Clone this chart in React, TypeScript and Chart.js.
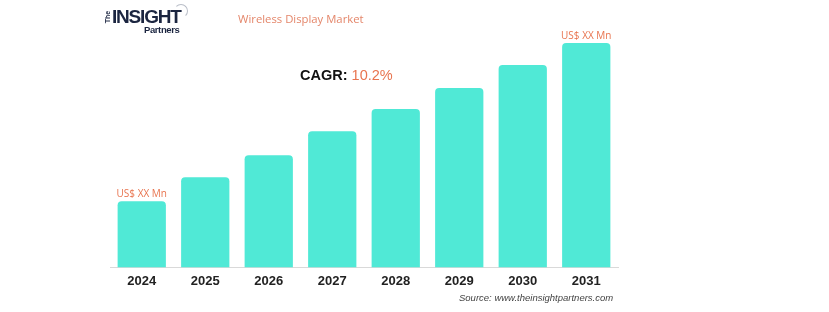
import React, { useEffect, useRef } from "react";
import { Chart, registerables } from "chart.js";

Chart.register(...registerables);

// Market size by year (relative units)
const years = ["2024", "2025", "2026", "2027", "2028", "2029", "2030", "2031"];
const marketSize = [66, 90, 112, 136, 158, 179, 202, 224];
const valueLabels = ["US$ XX Mn", "", "", "", "", "", "", "US$ XX Mn"];

const BAR_COLOR = "#50E9D6";
const ACCENT = "#E8744F";

const barLabelPlugin = {
  id: "barLabels",
  afterDatasetsDraw(chart: any) {
    const ctx = chart.ctx;
    const meta = chart.getDatasetMeta(0);
    ctx.save();
    ctx.fillStyle = ACCENT;
    ctx.font = "10px 'Open Sans', sans-serif";
    ctx.textAlign = "center";
    ctx.textBaseline = "bottom";
    meta.data.forEach((bar: any, i: number) => {
      const text = valueLabels[i];
      if (text) ctx.fillText(text, bar.x, bar.y - 2);
    });
    ctx.restore();
  },
};

export default function App() {
  const canvasRef = useRef<HTMLCanvasElement | null>(null);

  useEffect(() => {
    if (!canvasRef.current) return;
    const chart = new Chart(canvasRef.current, {
      type: "bar",
      data: {
        labels: years,
        datasets: [
          {
            data: marketSize,
            backgroundColor: BAR_COLOR,
            borderRadius: { topLeft: 4, topRight: 4, bottomLeft: 0, bottomRight: 0 },
            borderSkipped: "bottom",
            barPercentage: 0.76,
            categoryPercentage: 1,
          },
        ],
      },
      options: {
        animation: false,
        responsive: false,
        maintainAspectRatio: false,
        layout: { padding: { left: 110, right: 211, top: 43, bottom: 17 } },
        plugins: { legend: { display: false }, tooltip: { enabled: false } },
        scales: {
          x: {
            grid: { display: false, drawTicks: false },
            border: { display: true, color: "#d9d9d9", width: 1 },
            ticks: {
              color: "#222",
              padding: 6,
              font: { family: "'Liberation Sans', Arial, sans-serif", size: 13, weight: "bold" },
            },
          },
          y: {
            display: false,
            min: 0,
            max: 224,
          },
        },
      },
      plugins: [barLabelPlugin],
    });
    return () => chart.destroy();
  }, []);

  return (
    <div
      style={{
        position: "absolute",
        left: 0,
        top: 0,
        width: 829,
        height: 312,
        background: "#fff",
        overflow: "hidden",
        fontFamily: "'Open Sans', sans-serif",
      }}
    >
      <canvas ref={canvasRef} width={829} height={312} style={{ position: "absolute", left: 0, top: 0 }} />

      {/* logo */}
      <div
        style={{
          position: "absolute",
          left: 102,
          top: 13,
          transform: "rotate(-90deg)",
          fontFamily: "'Liberation Sans', Arial, sans-serif",
          fontSize: 7,
          fontWeight: "bold",
          color: "#1b2540",
          lineHeight: "8px",
        }}
      >
        The
      </div>
      <div
        style={{
          position: "absolute",
          left: 112,
          top: 7,
          fontFamily: "'Liberation Sans', Arial, sans-serif",
          fontSize: 19,
          fontWeight: "bold",
          letterSpacing: -1.2,
          color: "#1b2540",
          lineHeight: "20px",
        }}
      >
        INSIGHT
      </div>
      <div
        style={{
          position: "absolute",
          left: 144,
          top: 25,
          fontFamily: "'Liberation Sans', Arial, sans-serif",
          fontSize: 9.5,
          fontWeight: "bold",
          letterSpacing: -0.4,
          color: "#1b2540",
          lineHeight: "10px",
        }}
      >
        Partners
      </div>
      <div
        style={{
          position: "absolute",
          left: 174,
          top: 4,
          width: 12,
          height: 12,
          borderRadius: "50%",
          border: "1.5px solid #b9bec8",
          borderLeftColor: "transparent",
          borderBottomColor: "transparent",
        }}
      />

      {/* title */}
      <div
        style={{
          position: "absolute",
          left: 238,
          top: 11,
          fontSize: 11.3,
          color: "#E4866A",
          lineHeight: "16px",
          whiteSpace: "nowrap",
        }}
      >
        Wireless Display Market
      </div>

      {/* CAGR */}
      <div
        style={{
          position: "absolute",
          left: 300,
          top: 65,
          fontSize: 14.5,
          lineHeight: "20px",
          whiteSpace: "nowrap",
          fontFamily: "'Liberation Sans', Arial, sans-serif",
        }}
      >
        <span style={{ fontWeight: "bold", color: "#111" }}>CAGR: </span>
        <span style={{ color: ACCENT }}>10.2%</span>
      </div>

      {/* source */}
      <div
        style={{
          position: "absolute",
          left: 459,
          top: 291,
          fontSize: 9.5,
          fontStyle: "italic",
          color: "#444",
          lineHeight: "14px",
          whiteSpace: "nowrap",
          fontFamily: "'Liberation Sans', Arial, sans-serif",
        }}
      >
        Source: www.theinsightpartners.com
      </div>
    </div>
  );
}
